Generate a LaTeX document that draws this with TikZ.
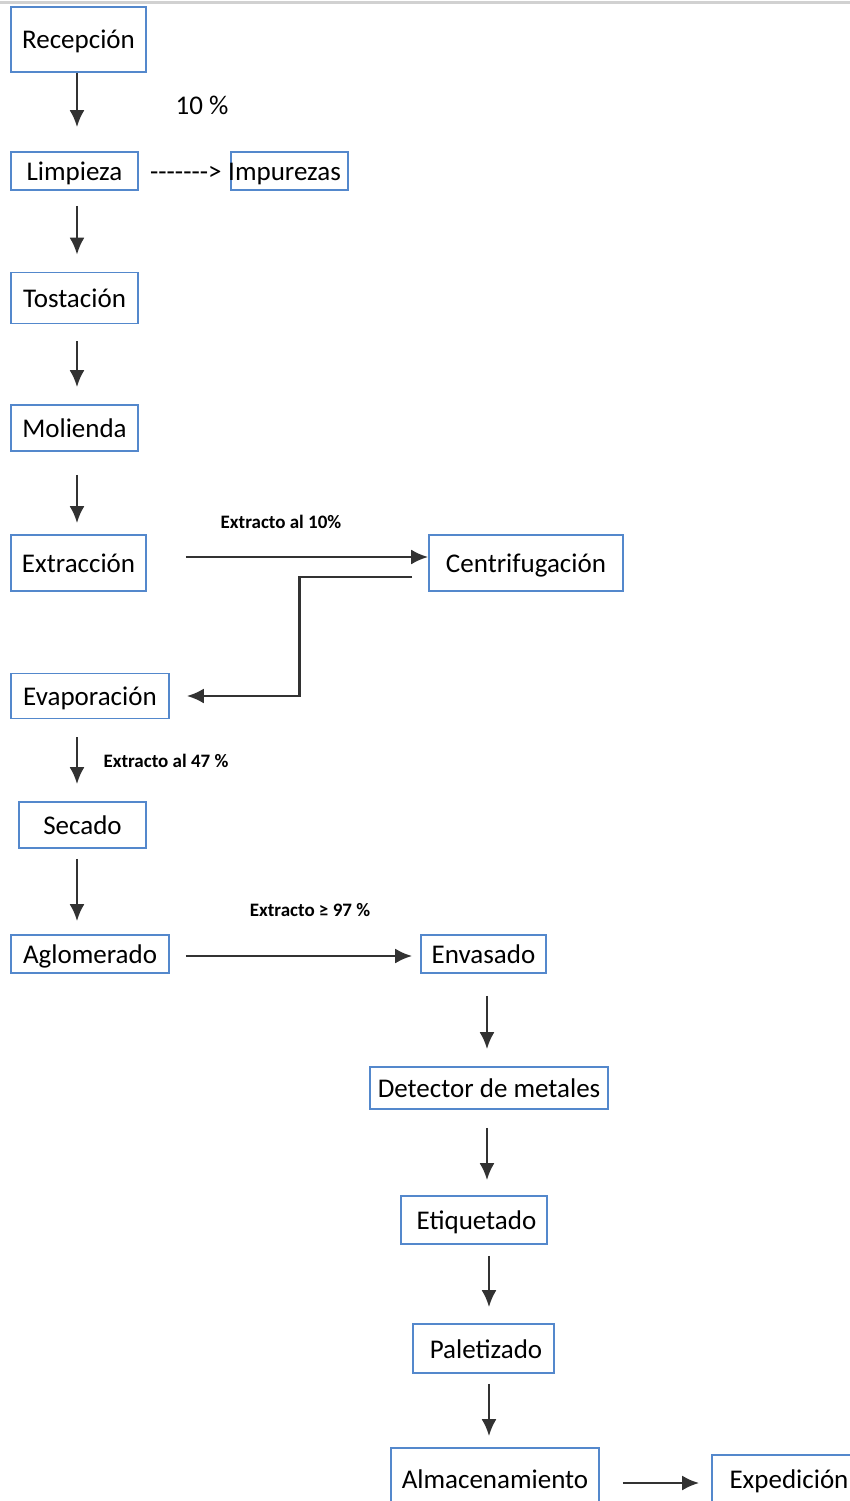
\documentclass[tikz,border=0pt]{standalone}
\usepackage{fontspec}
\setmainfont{Carlito}
\usetikzlibrary{arrows.meta}
\definecolor{boxblue}{RGB}{84,136,204}
\definecolor{arrowgray}{RGB}{50,50,50}
\tikzset{
  stepbox/.style={draw=boxblue, line width=1.6pt, inner sep=0pt,
    text height=21pt, text depth=2pt, font=\fontsize{27}{31}\selectfont},
  big/.style={inner sep=0pt, font=\fontsize{27}{31}\selectfont},
  small/.style={inner sep=0pt, font=\fontsize{19}{22}\selectfont\bfseries},
  arr/.style={draw=arrowgray, line width=2.8pt,
    -{Latex[length=17pt,width=15pt]}},
}
\begin{document}
\begin{tikzpicture}[x=1pt, y=-1pt]
\useasboundingbox (0,0) rectangle (850,1501);
\fill[white] (0,0) rectangle (850,1501);
% thin rule along the top edge
\draw[black!18, line width=3pt] (0,3) -- (850,3);

% column guides for the vertical arrows
\coordinate (colA) at (77,0);
\coordinate (colB) at (487,0);
\coordinate (colC) at (489,0);

% process steps
\node[stepbox, minimum width=135pt, minimum height=65pt] (rec)  at (78.5,39.5) {Recepción};
\node[stepbox, minimum width=127pt, minimum height=38pt] (limp) at (74.5,171) {Limpieza};
\node[stepbox, minimum width=117pt, minimum height=38pt] (imp)  at (289.5,171) {};
\node[big, anchor=west, text height=21pt, text depth=2pt] (impt) at (228,171) {Impurezas};
\node[big, anchor=west, text height=21pt, text depth=2pt] (dash) at (150,171) {-{}-{}-{}-{}-{}-{}->};
\node[stepbox, minimum width=127pt, minimum height=51pt] (tost) at (74.5,298) {Tostación};
\node[stepbox, minimum width=127pt, minimum height=46pt] (mol)  at (74.5,428) {Molienda};
\node[stepbox, minimum width=135pt, minimum height=56pt] (ext)  at (78.5,563) {Extracción};
\node[stepbox, minimum width=194pt, minimum height=56pt] (cen)  at (526,563) {Centrifugación};
\node[stepbox, minimum width=158pt, minimum height=45pt] (evap) at (90,696) {Evaporación};
\node[stepbox, minimum width=127pt, minimum height=46pt] (sec)  at (82.5,825) {Secado};
\node[stepbox, minimum width=158pt, minimum height=38pt] (aglo) at (90,954) {Aglomerado};
\node[stepbox, minimum width=125pt, minimum height=38pt] (env)  at (483.5,954) {Envasado};
\node[stepbox, minimum width=238pt, minimum height=42pt] (det)  at (489,1088) {Detector de metales};
\node[stepbox, minimum width=146pt, minimum height=48pt] (eti)  at (474,1220) {\hspace{5pt}Etiquetado};
\node[stepbox, minimum width=141pt, minimum height=49pt] (pal)  at (483.5,1348.5) {\hspace{5pt}Paletizado};
\node[stepbox, minimum width=208pt, minimum height=62pt] (alm)  at (495,1479) {Almacenamiento};
\node[stepbox, minimum width=154pt, minimum height=48pt] (exp)  at (789,1479) {Expedición};

% annotations
\node[big]   (pct)  at (202,105) {10 \%};
\node[small] (l10)  at (281,522) {Extracto al 10\%};
\node[small] (l47)  at (166,761) {Extracto al 47 \%};
\node[small] (l97)  at (310,910) {Extracto ≥ 97 \%};

% vertical flow, left column
\draw[arr, shorten >=24pt] (rec.south -| colA) -- (limp.north -| colA);
\draw[arr, shorten <=15pt, shorten >=17pt] (limp.south -| colA) -- (tost.north -| colA);
\draw[arr, shorten <=17pt, shorten >=17pt] (tost.south -| colA) -- (mol.north -| colA);
\draw[arr, shorten <=23pt, shorten >=11pt] (mol.south -| colA) -- (ext.north -| colA);
\draw[arr, shorten <=18pt, shorten >=17pt] (evap.south -| colA) -- (sec.north -| colA);
\draw[arr, shorten <=10pt, shorten >=13pt] (sec.south -| colA) -- (aglo.north -| colA);

% extraction to centrifuge and back to evaporation
\draw[arr, shorten <=39pt] ([yshift=6pt]ext.east) -- ([yshift=6pt]cen.west);
\draw[arr] ([shift={(-16,14)}]cen.west) -- ++(-113,0) |- ([xshift=17pt]evap.east);

% packing line
\draw[arr, shorten <=16pt, shorten >=8pt] ([yshift=-2pt]aglo.east) -- ([yshift=-2pt]env.west);
\draw[arr, shorten <=22pt, shorten >=17pt] (env.south -| colB) -- (det.north -| colB);
\draw[arr, shorten <=18pt, shorten >=15pt] (det.south -| colB) -- (eti.north -| colB);
\draw[arr, shorten <=11pt, shorten >=16pt] (eti.south -| colC) -- (pal.north -| colC);
\draw[arr, shorten <=10pt, shorten >=11pt] (pal.south -| colC) -- (alm.north -| colC);
\draw[arr, shorten <=23pt, shorten >=12pt] ([yshift=-4pt]alm.east) -- ([yshift=-4pt]exp.west);
\end{tikzpicture}
\end{document}
